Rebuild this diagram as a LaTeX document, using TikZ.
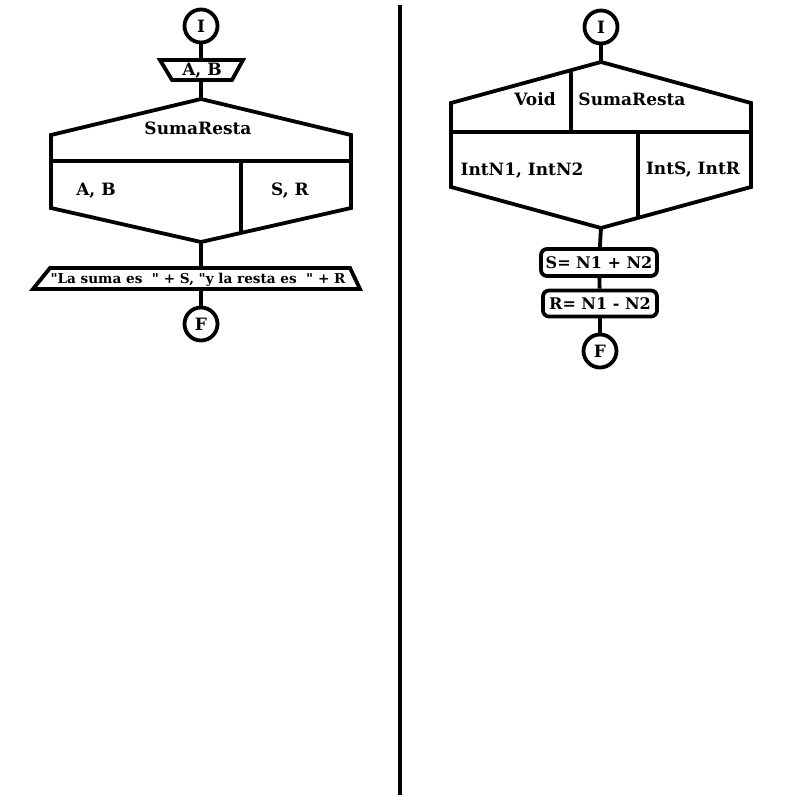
\documentclass[tikz,border=0pt]{standalone}
\usepackage{fontspec}
\setmainfont{DejaVu Serif}[Ligatures=TeXOff]
\begin{document}
\begin{tikzpicture}[x=1pt,y=-1pt,line width=3.8pt,line join=miter,
  term/.style={draw,circle,minimum size=33pt,inner sep=0pt,font=\fontsize{17}{17}\selectfont\bfseries},
  lbl/.style={inner sep=0pt,font=\fontsize{17}{17}\selectfont\bfseries},
  proc/.style={draw,rounded corners=6pt,inner sep=0pt,font=\fontsize{16}{17}\selectfont\bfseries}]
\useasboundingbox (0,0) rectangle (800,800);
% separator
\draw (400,5) -- (400,795);
% ---------- left ----------
\node[term] (I1) at (201,26) {I};
\draw (160,60) -- (243,60) -- (232,80) -- (172,80) -- cycle;
\coordinate (in1t) at (201,60);
\coordinate (in1b) at (201,80);
\node[lbl] (tin1) at (202,70.5) {A, B};
\draw (51,135) -- (201,99) -- (351,135) -- (351,208) -- (201,242) -- (51,208) -- cycle;
\coordinate (h1t) at (201,99);
\coordinate (h1b) at (201,242);
\draw (51,161) -- (351,161);
\draw (241,161) -- (241,233);
\node[lbl] (tsr1) at (198,128) {SumaResta};
\node[lbl] (tab) at (96,191) {A, B};
\node[lbl] (tsr) at (290,191) {S, R};
\draw (50,268) -- (350,268) -- (360,289) -- (33,289) -- cycle;
\coordinate (o1t) at (201,268);
\coordinate (o1b) at (201,289);
\node[lbl,font=\fontsize{13.6}{14}\selectfont\bfseries] (tout) at (198,280) {"La suma es~~" + S, "y la resta es~~" + R};
\node[term] (F1) at (201,324) {F};
\draw (I1) -- (in1t);
\draw (in1b) -- (h1t);
\draw (h1b) -- (o1t);
\draw (o1b) -- (F1);
% ---------- right ----------
\node[term] (I2) at (601,27) {I};
\draw (451,103) -- (601,62) -- (751,103) -- (751,187) -- (601,228) -- (451,187) -- cycle;
\coordinate (h2t) at (601,62);
\coordinate (h2b) at (601,228);
\draw (451,132) -- (751,132);
\draw (571,70.2) -- (571,132);
\draw (638,132) -- (638,217.9);
\node[lbl] (tvoid) at (535,99) {Void};
\node[lbl] (tsr2) at (632,99) {SumaResta};
\node[lbl] (tn) at (522,171) {IntN1, IntN2};
\node[lbl] (tsr3) at (693,170) {IntS, IntR};
\node[proc,minimum width=116pt,minimum height=27pt] (p1) at (599,262.5) {S= N1 + N2};
\node[proc,minimum width=114pt,minimum height=26pt] (p2) at (600,303.5) {R= N1 - N2};
\node[term] (F2) at (600,351) {F};
\draw (I2) -- (h2t);
\draw (h2b) -- (p1);
\draw (p1) -- (p2);
\draw (p2) -- (F2);
\end{tikzpicture}
\end{document}
